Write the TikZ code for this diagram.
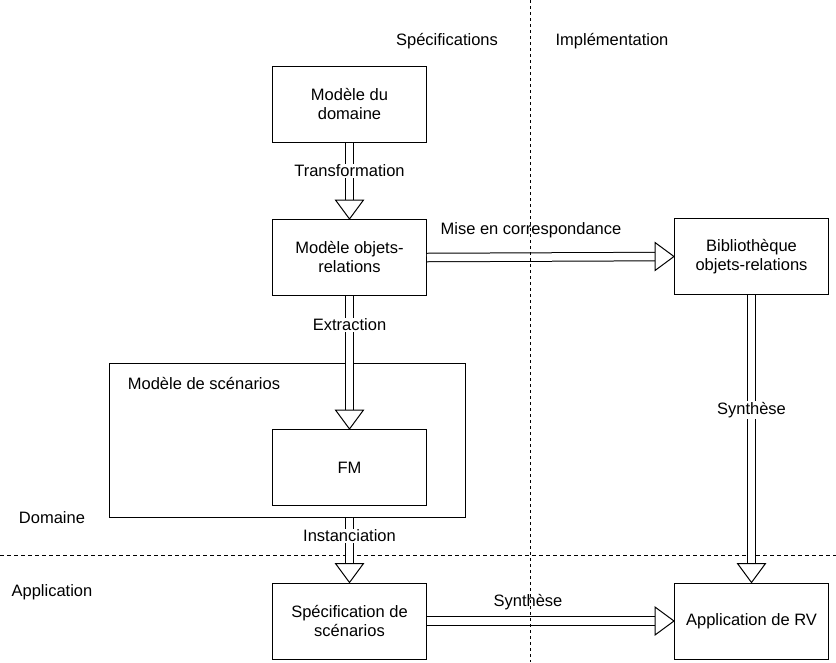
\documentclass[tikz,border=0pt]{standalone}
\usepackage{fontspec}
\setmainfont{Liberation Sans}
\usetikzlibrary{calc}

\tikzset{
  box/.style={draw, line width=1pt, align=center, minimum width=154pt, minimum height=76pt, inner sep=2pt},
  lbl/.style={align=center, inner sep=1pt},
  onshaft/.style={lbl, fill=white},
  shaft/.style={draw, line width=1pt, double=white, double distance=7.5pt},
  head/.style={draw, line width=1pt, fill=white, line join=miter},
  sep/.style={line width=0.8pt, dash pattern=on 4pt off 3pt}
}
% hollow arrow: from, to, rotation (0 = right, -90 = down)
\newcommand{\hollow}[3]{%
  \draw[shaft] (#1) -- ($(#2)!18pt!(#1)$);
  \draw[head, shift={(#2)}, rotate=#3] (0,0) -- (-19,14) -- (-19,-14) -- cycle;
}

\begin{document}
\begin{tikzpicture}[x=1pt, y=-1pt, font=\fontsize{16.5}{19}\selectfont]
\useasboundingbox (0,0) rectangle (836,662);

% separation domaine / application
\draw[sep] (0,555) -- (836,555);

\node[lbl] (specs) at (447,41) {Spécifications};
\node[lbl] (impl) at (612,41) {Implémentation};
\node[lbl] (domn) at (52,518) {Domaine};
\node[lbl] (appl) at (52,592) {Application};

\node[box] (dom) at (349.5,104) {Modèle du\\domaine};
\node[box] (orm) at (349.5,257.5) {Modèle objets-\\relations};
\node[box, minimum width=356pt, minimum height=154pt] (scen) at (287,440) {};
\node[lbl] (scenlbl) at (204,383) {Modèle de scénarios};
\node[box] (fm) at (349.5,467.5) {FM};
\node[box] (spec) at (349.5,621) {Spécification de\\scénarios};
\node[box] (lib) at (751.5,256.5) {Bibliothèque\\objets-relations};
\node[box] (app) at (751.5,621) {Application de RV};

\hollow{dom.south}{orm.north}{-90}
\node[onshaft] (transf) at (349.5,171) {Transformation};

\hollow{orm.south}{fm.north}{-90}
\node[onshaft] (extr) at (349.5,325) {Extraction};

\hollow{scen.south -| fm.south}{spec.north}{-90}
\node[onshaft] (inst) at (349.5,536) {Instanciation};

\hollow{orm.east}{lib.west}{0}
\node[lbl] (corr) at (531,230) {Mise en correspondance};

\hollow{spec.east}{app.west}{0}
\node[lbl] (synh) at (528,602) {Synthèse};

\hollow{lib.south}{app.north}{-90}
\node[onshaft] (synv) at (751.5,410) {Synthèse};

% separation specifications / implementation
\draw[sep, dash pattern=on 3pt off 3pt] (530.5,0) -- (530.5,662);
\end{tikzpicture}
\end{document}
